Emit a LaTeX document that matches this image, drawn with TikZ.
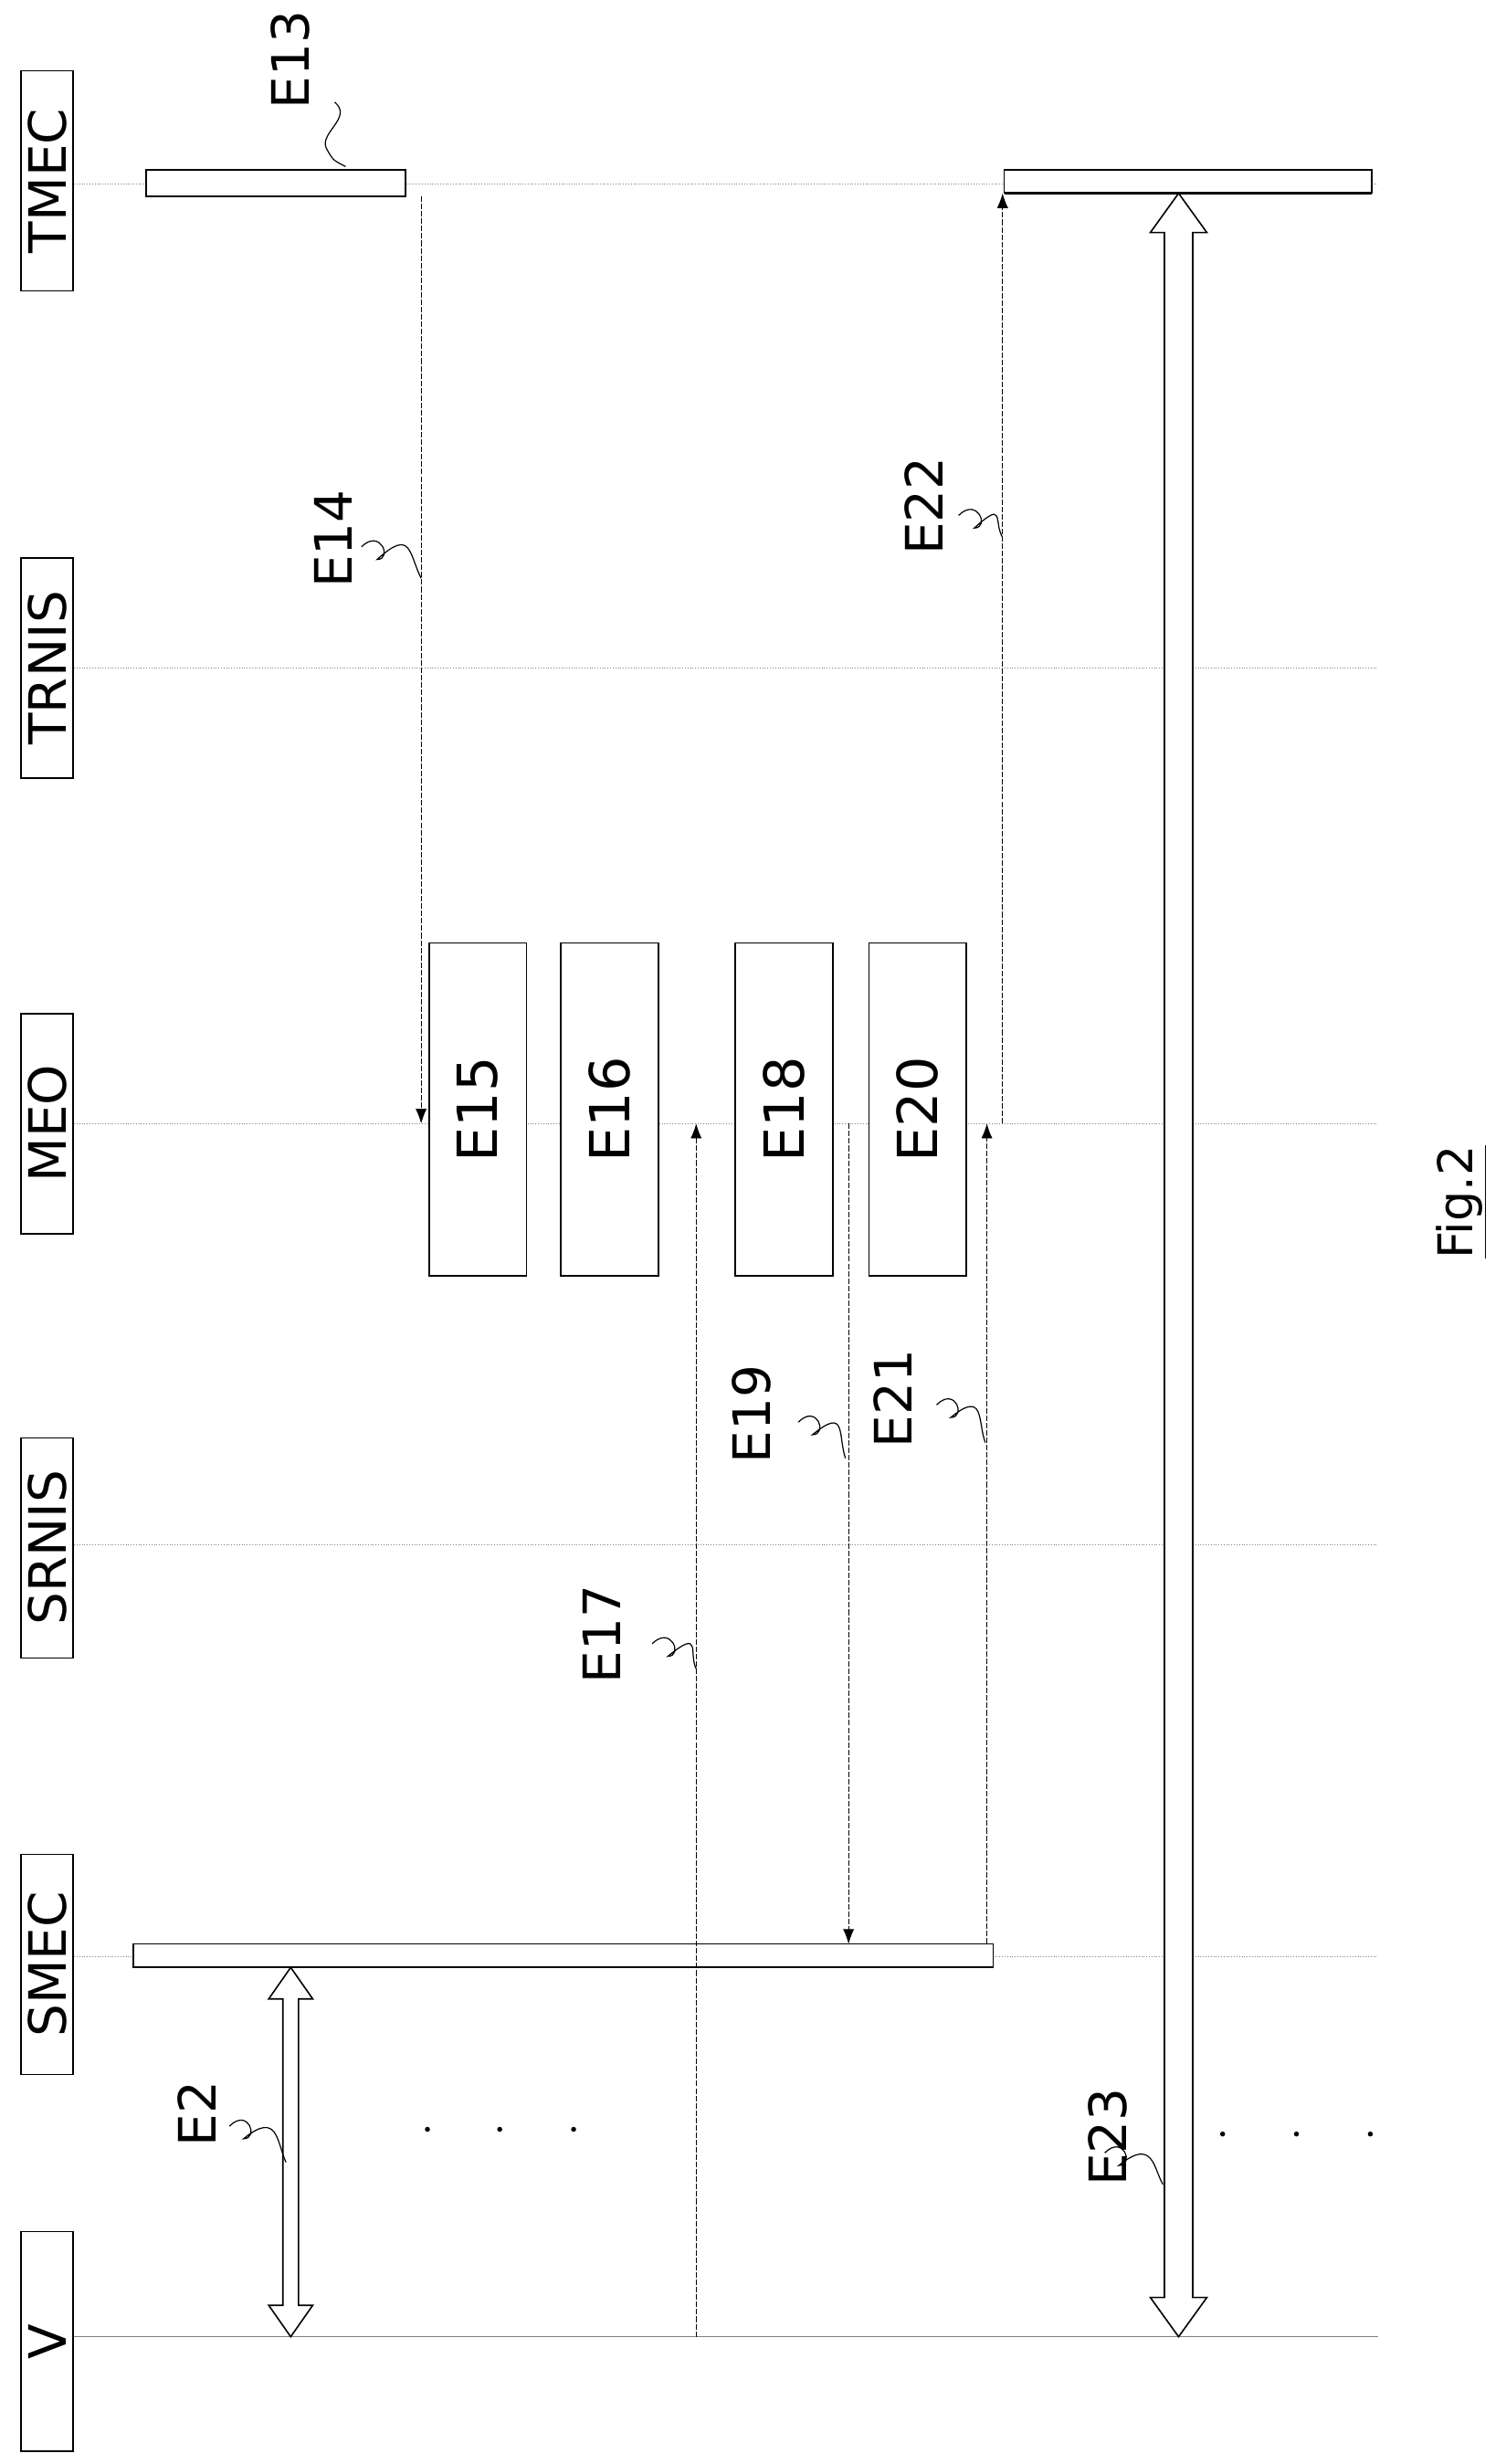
\documentclass[tikz,border=0pt]{standalone}
\usepackage{fontspec}
\setmainfont{DejaVu Sans}
\usetikzlibrary{arrows.meta, positioning}

\begin{document}
\begin{tikzpicture}[x=0.03cm, y=-0.03cm,
  life/.style={gray, thin, densely dotted},
  msg/.style={thin, dashed, dash pattern=on 3pt off 1pt, -{Latex[length=8pt,width=6pt]}},
  actor/.style={draw, thick, rotate=90, minimum width=4.2cm, minimum height=1cm, font=\fontsize{28}{30}\selectfont},
  step box/.style={draw, thick, fill=white, rotate=90, minimum width=6.36cm, minimum height=1.86cm, font=\fontsize{30}{32}\selectfont},
  bar/.style={draw, thick, fill=white},
  ref/.style={rotate=90, font=\fontsize{28}{30}\selectfont},
  squig/.style={semithick}]

  \useasboundingbox (0,0) rectangle (958,1568);

  % lifeline heads
  \node[actor] (tmec) at (30,115) {TMEC};
  \node[actor] (trnis) at (30,425) {TRNIS};
  \node[actor] (meo) at (30,715) {MEO};
  \node[actor] (srnis) at (30,985) {SRNIS};
  \node[actor] (smec) at (30,1250) {SMEC};
  \node[actor] (v) at (30,1490) {V};

  % lifelines
  \foreach \n/\y in {tmec/117, trnis/425, meo/715, srnis/983, smec/1245}
    \draw[life] (\n.south |- 0,\y) -- (877,\y);
  \draw[gray, thin] (v.south |- 0,1487) -- (877,1487);

  % activation bars
  \draw[bar] (93,108) rectangle (258,125);
  \draw[bar] (639,108) rectangle (873,123);
  \draw[very thick] (639,123) -- (873,123);
  \draw[bar] (85,1237) rectangle (632,1252);

  % steps on MEO
  \node[step box] (e15) at (304,706) {E15};
  \node[step box] (e16) at (388,706) {E16};
  \node[step box] (e18) at (499,706) {E18};
  \node[step box] (e20) at (584,706) {E20};

  % messages
  \coordinate (m14a) at (268,125);
  \coordinate (m14b) at (268,715);
  \draw[msg] (m14a) -- (m14b);
  \coordinate (m17a) at (443,1487);
  \coordinate (m17b) at (443,715);
  \draw[msg] (m17a) -- (m17b);
  \coordinate (m19a) at (540,715);
  \coordinate (m19b) at (540,1237);
  \draw[msg] (m19a) -- (m19b);
  \coordinate (m21a) at (628,1237);
  \coordinate (m21b) at (628,715);
  \draw[msg] (m21a) -- (m21b);
  \coordinate (m22a) at (638,715);
  \coordinate (m22b) at (638,123);
  \draw[msg] (m22a) -- (m22b);

  % hollow double arrows
  \draw[thick, fill=white] (750,123) -- (768,148) -- (759,148) -- (759,1462) -- (768,1462)
    -- (750,1487) -- (732,1462) -- (741,1462) -- (741,148) -- (732,148) -- cycle;
  \draw[thick, fill=white] (185,1252) -- (199,1272) -- (190,1272) -- (190,1467) -- (199,1467)
    -- (185,1487) -- (171,1467) -- (180,1467) -- (180,1272) -- (171,1272) -- cycle;

  % reference labels
  \node[ref] (l13) at (185,38) {E13};
  \node[ref] (l14) at (212,343) {E14};
  \node[ref] (l22) at (588,322) {E22};
  \node[ref] (l17) at (383,1040) {E17};
  \node[ref] (l19) at (478,900) {E19};
  \node[ref] (l21) at (568,890) {E21};
  \node[ref] (l2) at (125,1345) {E2};
  \node[ref] (l23) at (705,1360) {E23};

  % squiggles
  \draw[squig] (213,65) .. controls (225,75) and (202,85) .. (208,95) .. controls (212,102) .. (220,106);
  \draw[squig] (230,348) .. controls (242,336) and (250,356) .. (240,356) .. controls (262,336) and (260,352) .. (268,368);
  \draw[squig] (610,328) .. controls (622,316) and (630,336) .. (620,336) .. controls (640,318) and (632,332) .. (638,342);
  \draw[squig] (415,1046) .. controls (427,1034) and (435,1054) .. (425,1054) .. controls (447,1036) and (438,1052) .. (443,1062);
  \draw[squig] (508,905) .. controls (520,893) and (527,913) .. (517,913) .. controls (539,895) and (533,913) .. (538,928);
  \draw[squig] (596,894) .. controls (608,882) and (615,902) .. (605,902) .. controls (627,884) and (622,905) .. (627,918);
  \draw[squig] (146,1353) .. controls (158,1341) and (165,1361) .. (155,1361) .. controls (177,1343) and (176,1363) .. (182,1376);
  \draw[squig] (703,1370) .. controls (715,1358) and (722,1378) .. (712,1378) .. controls (734,1360) and (734,1380) .. (740,1390);

  % continuation dots
  \foreach \x in {272,318,365}
    \fill (\x,1355) circle (1.6);
  \foreach \x in {778,825,872}
    \fill (\x,1358) circle (1.6);

  % figure caption
  \node[rotate=90, font=\fontsize{26}{28}\selectfont] (fig) at (930,765) {\underline{Fig.2}};
\end{tikzpicture}
\end{document}
